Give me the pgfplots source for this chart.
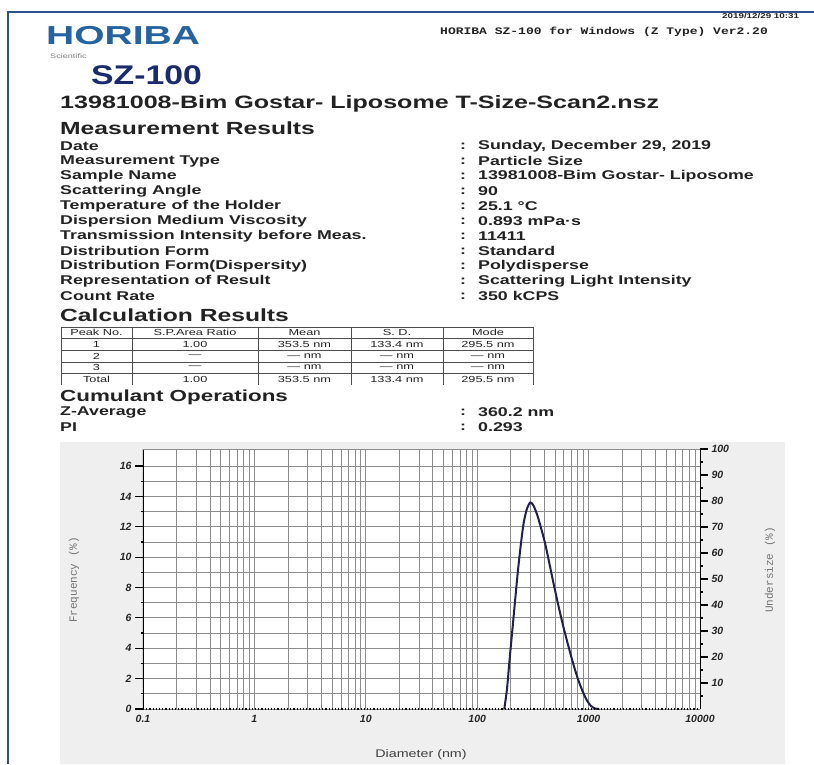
\documentclass[border=0pt]{standalone}
\usepackage{graphicx}
\usepackage{pgfplots}
\pgfplotsset{compat=1.18}
\usepackage{fontspec}
\setmainfont{Liberation Sans}
\newfontfamily\monofont{Liberation Mono}
\definecolor{horiba}{HTML}{2563A0}
\definecolor{navy}{HTML}{1B2A6B}
\definecolor{framec}{HTML}{2F4F8F}
\definecolor{panel}{HTML}{EFEFEF}
\definecolor{curvec}{HTML}{20204A}
\definecolor{txt}{HTML}{222222}
\newcommand{\R}[1]{\scalebox{1.4}[1]{\fontsize{12.7}{13}\selectfont\bfseries #1}}
\newcommand{\Hd}[2]{\scalebox{1.4}[1]{\fontsize{#1}{#1}\selectfont\bfseries #2}}
\newcommand{\Tb}[1]{\scalebox{1.45}[1]{\fontsize{8.8}{9}\selectfont #1}}
\begin{document}
\begin{tikzpicture}
\begin{scope}[x=1pt,y=-1pt]
\useasboundingbox (0,0) rectangle (814,764);
\fill[white] (0,0) rectangle (814,764);
\draw[framec, line width=2pt] (8,764) -- (8,12) -- (814,12);
\node[anchor=west, inner sep=0, txt] at (722,16) {\scalebox{1.4}[1]{\fontsize{7}{7}\selectfont\bfseries 2019/12/29 10:31}};
% header
\node[anchor=west, inner sep=0, horiba] at (46,36) {\scalebox{1.5}[1]{\fontsize{26}{26}\selectfont\bfseries HORIBA}};
\node[anchor=west, inner sep=0, gray] at (50,56) {\scalebox{1.4}[1]{\fontsize{6.5}{6.5}\selectfont Scientific}};
\node[anchor=west, inner sep=0, txt] at (440,32) {\scalebox{1.3}[1]{\monofont\fontsize{10}{10}\selectfont\bfseries HORIBA SZ-100 for Windows (Z Type) Ver2.20}};
\node[anchor=west, inner sep=0, navy] at (91,75) {\scalebox{1.25}[1]{\fontsize{27}{27}\selectfont\bfseries SZ-100}};
\node[anchor=west, inner sep=0, txt] at (60,104) {\Hd{17.9}{13981008-Bim Gostar- Liposome T-Size-Scan2.nsz}};
\node[anchor=west, inner sep=0, txt] at (60,128) {\Hd{17.6}{Measurement Results}};
% rows
\node[anchor=west, inner sep=0, txt] at (60,146) {\R{Date}};
\node[anchor=west, inner sep=0, txt] at (60,161) {\R{Measurement Type}};
\node[anchor=west, inner sep=0, txt] at (60,176) {\R{Sample Name}};
\node[anchor=west, inner sep=0, txt] at (60,191) {\R{Scattering Angle}};
\node[anchor=west, inner sep=0, txt] at (60,206) {\R{Temperature of the Holder}};
\node[anchor=west, inner sep=0, txt] at (60,221) {\R{Dispersion Medium Viscosity}};
\node[anchor=west, inner sep=0, txt] at (60,236) {\R{Transmission Intensity before Meas.}};
\node[anchor=west, inner sep=0, txt] at (60,251) {\R{Distribution Form}};
\node[anchor=west, inner sep=0, txt] at (60,266) {\R{Distribution Form(Dispersity)}};
\node[anchor=west, inner sep=0, txt] at (60,281) {\R{Representation of Result}};
\node[anchor=west, inner sep=0, txt] at (60,296) {\R{Count Rate}};
\foreach \yy in {146,161,...,296} {\node[anchor=west, inner sep=0, txt] at (460,\yy) {\R{:}};}
\node[anchor=west, inner sep=0, txt] at (478,146) {\R{Sunday, December 29, 2019}};
\node[anchor=west, inner sep=0, txt] at (478,161) {\R{Particle Size}};
\node[anchor=west, inner sep=0, txt] at (478,176) {\R{13981008-Bim Gostar- Liposome}};
\node[anchor=west, inner sep=0, txt] at (478,191) {\R{90}};
\node[anchor=west, inner sep=0, txt] at (478,206) {\R{25.1 °C}};
\node[anchor=west, inner sep=0, txt] at (478,221) {\R{0.893 mPa·s}};
\node[anchor=west, inner sep=0, txt] at (478,236) {\R{11411}};
\node[anchor=west, inner sep=0, txt] at (478,251) {\R{Standard}};
\node[anchor=west, inner sep=0, txt] at (478,266) {\R{Polydisperse}};
\node[anchor=west, inner sep=0, txt] at (478,281) {\R{Scattering Light Intensity}};
\node[anchor=west, inner sep=0, txt] at (478,296) {\R{350 kCPS}};
% calculation results
\node[anchor=west, inner sep=0, txt] at (60,315) {\Hd{17.6}{Calculation Results}};
\draw[black!70, line width=0.8pt] (61,327) -- (533,327) (61,338) -- (533,338) (61,350) -- (533,350) (61,362) -- (533,362) (61,373) -- (533,373);
\draw[black!70, line width=0.8pt] (61,327) -- (61,385) (132,327) -- (132,385) (258,327) -- (258,385) (351,327) -- (351,385) (443,327) -- (443,385) (533,327) -- (533,385);
\foreach \cx/\a/\b/\c/\d/\e in {96.5/Peak No./1/2/3/Total, 195/S.P.Area Ratio/1.00/---/---/1.00, 304.5/Mean/353.5 nm/--- nm/--- nm/353.5 nm, 397/S. D./133.4 nm/--- nm/--- nm/133.4 nm, 488/Mode/295.5 nm/--- nm/--- nm/295.5 nm} {
  \node[inner sep=0, txt] at (\cx,332.5) {\Tb{\a}};
  \node[inner sep=0, txt] at (\cx,344) {\Tb{\b}};
  \node[inner sep=0, txt] at (\cx,356) {\Tb{\c}};
  \node[inner sep=0, txt] at (\cx,367.5) {\Tb{\d}};
  \node[inner sep=0, txt] at (\cx,379) {\Tb{\e}};
}
% cumulant
\node[anchor=west, inner sep=0, txt] at (60,397) {\Hd{16}{Cumulant Operations}};
\node[anchor=west, inner sep=0, txt] at (60,412) {\R{Z-Average}};
\node[anchor=west, inner sep=0, txt] at (60,427) {\R{PI}};
\node[anchor=west, inner sep=0, txt] at (460,412) {\R{:}};
\node[anchor=west, inner sep=0, txt] at (460,427) {\R{:}};
\node[anchor=west, inner sep=0, txt] at (478,412) {\R{360.2 nm}};
\node[anchor=west, inner sep=0, txt] at (478,427) {\R{0.293}};
% panel
\fill[panel] (60,442) rectangle (785,764);
\node[rotate=90, inner sep=0, black!55] at (74,580) {\monofont\fontsize{11}{11}\selectfont Frequency (\%)};
\node[rotate=90, inner sep=0, black!55] at (770,570) {\monofont\fontsize{11}{11}\selectfont Undersize (\%)};
\node[inner sep=0, black!75] at (421,755) {\scalebox{1.3}[1]{\fontsize{11}{11}\selectfont Diameter (nm)}};
\end{scope}
\begin{axis}[
  at={(143pt,-709pt)}, anchor=south west,
  scale only axis, width=557pt, height=260pt,
  xmode=log, xmin=0.1, xmax=10000, ymin=0, ymax=17.12,
  axis line style={draw=none},
  axis background/.style={fill=white},
  xtick={0.1,1,10,100,1000,10000},
  xticklabels={0.1,1,10,100,1000,10000},
  minor xtick={0.2,0.3,0.4,0.5,0.6,0.7,0.8,0.9,2,3,4,5,6,7,8,9,20,30,40,50,60,70,80,90,200,300,400,500,600,700,800,900,2000,3000,4000,5000,6000,7000,8000,9000},
  ytick={0,2,...,16}, minor ytick={1,3,...,15},
  grid=both,
  major grid style={black!45, line width=0.8pt},
  minor grid style={black!45, line width=0.8pt},
  ytick pos=left, xtick pos=bottom,
  tick align=outside,
  major tick length=8pt, minor tick length=2.5pt,
  ytick style={black, line width=1.2pt},
  xtick style={draw=none},
  /pgf/number format/assume math mode=true,
  yticklabel style={font=\fontsize{10.5}{10}\selectfont\bfseries\itshape, black!85},
  xticklabel style={font=\fontsize{10.5}{10}\selectfont\bfseries\itshape, black!85, yshift=5pt},
]
\addplot[curvec, line width=2pt, smooth, tension=0.45] table[row sep=\\] {
x y\\
175 0\\ 185 1.3\\ 195 3.2\\ 205 4.9\\ 218 7.0\\ 232 9.1\\ 248 11.0\\ 262 12.3\\ 280 13.2\\ 300 13.6\\ 320 13.4\\ 345 12.8\\ 375 11.9\\ 410 10.8\\ 450 9.4\\ 490 8.1\\ 540 6.7\\ 590 5.5\\ 650 4.3\\ 720 3.1\\ 800 2.0\\ 880 1.2\\ 960 0.6\\ 1050 0.2\\ 1150 0.03\\ 1250 0\\
};
\draw[black, line width=1.2pt] (rel axis cs:0,0) -- (rel axis cs:0,1);
\draw[black!45, line width=0.8pt] (rel axis cs:0,1) -- (rel axis cs:1,1);
\draw[black, line width=1.2pt, dotted] (rel axis cs:0,0) -- (rel axis cs:1,0);
\end{axis}
\begin{axis}[
  at={(143pt,-709pt)}, anchor=south west,
  scale only axis, width=557pt, height=260pt,
  xmode=log, xmin=0.1, xmax=10000, ymin=0, ymax=100,
  axis x line=none, axis y line*=right,
  y axis line style={black, line width=1pt, -},
  ytick={10,20,...,100}, minor ytick={5,15,...,95},
  tick align=outside,
  major tick length=8pt, minor tick length=2.5pt,
  ytick style={black, line width=1.2pt},
  /pgf/number format/assume math mode=true,
  yticklabel style={font=\fontsize{10.5}{10}\selectfont\bfseries\itshape, black!85},
]
\end{axis}
\end{tikzpicture}
\end{document}
